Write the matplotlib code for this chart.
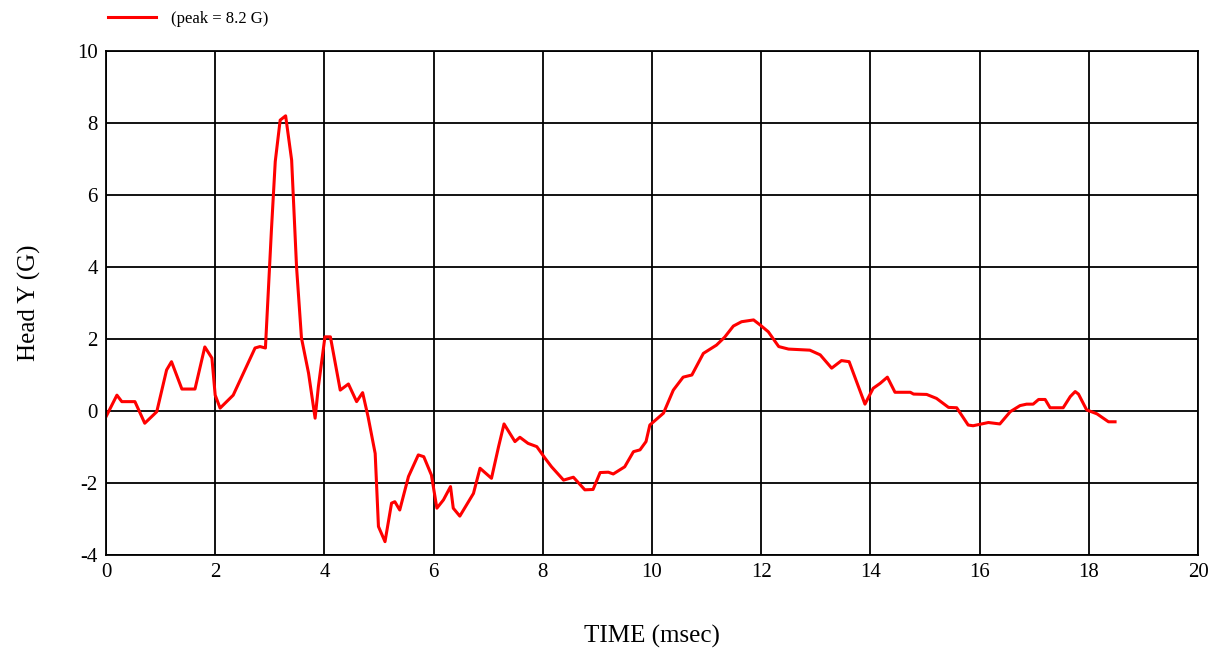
import numpy as np
import matplotlib.pyplot as plt

# head Y acceleration trace
time_ms = [0.0, 0.2, 0.29, 0.53, 0.71, 0.93, 1.11, 1.2, 1.39, 1.63, 1.81, 1.94, 2.0, 2.09,
           2.33, 2.73, 2.82, 2.92, 3.03, 3.1, 3.19, 3.29, 3.4, 3.49, 3.58, 3.71, 3.83, 3.89,
           4.01, 4.11, 4.29, 4.44, 4.59, 4.7, 4.8, 4.93, 4.99, 5.11, 5.23, 5.29, 5.38, 5.54,
           5.72, 5.82, 5.96, 6.06, 6.18, 6.31, 6.36, 6.48, 6.73, 6.85, 7.06, 7.19, 7.29, 7.49,
           7.58, 7.73, 7.89, 8.04, 8.16, 8.38, 8.56, 8.77, 8.92, 9.05, 9.2, 9.29, 9.5, 9.66,
           9.78, 9.89, 9.96, 10.21, 10.39, 10.57, 10.73, 10.94, 11.18, 11.33, 11.49, 11.64,
           11.86, 11.98, 12.13, 12.32, 12.5, 12.89, 13.08, 13.29, 13.47, 13.61, 13.9, 14.05,
           14.18, 14.31, 14.45, 14.73, 14.79, 15.03, 15.21, 15.43, 15.58, 15.79, 15.88, 16.16,
           16.37, 16.56, 16.74, 16.86, 16.98, 17.08, 17.2, 17.29, 17.53, 17.66, 17.75, 17.81,
           17.96, 18.15, 18.36, 18.48]
head_y = [-0.16, 0.44, 0.26, 0.26, -0.34, -0.02, 1.14, 1.37, 0.61, 0.61, 1.78, 1.47, 0.44, 0.08,
          0.44, 1.75, 1.79, 1.75, 5.03, 6.93, 8.08, 8.2, 6.97, 4.0, 2.03, 1.05, -0.2, 0.68,
          2.06, 2.06, 0.58, 0.75, 0.26, 0.51, -0.16, -1.18, -3.21, -3.63, -2.56, -2.52, -2.75, -1.82,
          -1.22, -1.27, -1.78, -2.7, -2.47, -2.1, -2.7, -2.92, -2.29, -1.59, -1.87, -0.99, -0.36, -0.85,
          -0.73, -0.9, -0.99, -1.31, -1.55, -1.92, -1.84, -2.19, -2.18, -1.71, -1.7, -1.75, -1.55, -1.13,
          -1.08, -0.85, -0.39, -0.06, 0.58, 0.94, 1.0, 1.6, 1.83, 2.05, 2.36, 2.48,
          2.53, 2.39, 2.2, 1.79, 1.72, 1.69, 1.56, 1.19, 1.4, 1.37, 0.19, 0.63,
          0.77, 0.94, 0.52, 0.52, 0.47, 0.46, 0.35, 0.1, 0.09, -0.39, -0.41, -0.32,
          -0.36, -0.02, 0.15, 0.19, 0.19, 0.32, 0.32, 0.09, 0.09, 0.4, 0.54, 0.47,
          0.03, -0.08, -0.3, -0.3]

x_ticks = np.arange(0, 21, 2)
y_ticks = np.arange(-4, 11, 2)

plt.rcParams['font.family'] = ['Liberation Serif', 'DejaVu Serif']
plt.rcParams['axes.unicode_minus'] = False

fig = plt.figure(figsize=(12.21, 6.55), dpi=100)
ax = fig.add_axes([0.0868, 0.1527, 0.8944, 0.7694])

line, = ax.plot(time_ms, head_y, color='#ff0000', lw=2.2)

ax.set_xlim(0, 20)
ax.set_ylim(-4, 10)
ax.set_xticks(x_ticks)
ax.set_yticks(y_ticks)
ax.tick_params(length=0, labelsize=15, pad=6)
ax.grid(True, color='black', lw=1.3)
ax.set_axisbelow(True)
for s in ax.spines.values():
    s.set_color('black')
    s.set_linewidth(1.3)

ax.set_xlabel("TIME (msec)", fontsize=18, labelpad=31)
ax.set_ylabel("Head Y (G)", fontsize=18, labelpad=26)

fig.legend([line], ["(peak = 8.2 G)"], loc='upper left', bbox_to_anchor=(0.076, 1.006),
           frameon=False, fontsize=12, handlelength=2.9, handletextpad=0.9)

fig.savefig("out.png", dpi=100)
